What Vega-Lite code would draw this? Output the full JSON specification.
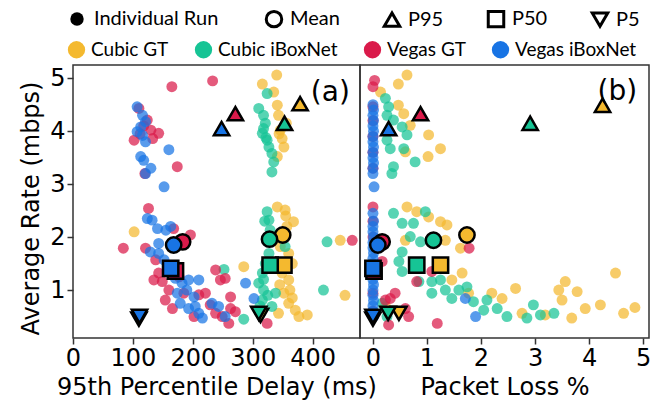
{
  "$schema": "https://vega.github.io/schema/vega-lite/v6.json",
  "padding": {"left": 18, "top": 9, "right": 10, "bottom": 0},
  "spacing": 0,
  "bounds": "flush",
  "config": {
    "view": {"stroke": "#333", "strokeWidth": 1.5},
    "axis": {"labelFont": "DejaVu Sans", "labelFontSize": 24, "titleFont": "DejaVu Sans", "titleFontSize": 24, "titleFontWeight": "normal", "labelColor": "black", "titleColor": "black", "tickColor": "#333", "tickSize": 6, "tickWidth": 1.5, "domain": false, "grid": false, "labelPadding": 2, "labelFlush": false, "format": "d", "titlePadding": 5},
    "legend": {"labelFont": "Lato", "labelFontSize": 20, "labelColor": "black", "title": null, "symbolBaseFillColor": "transparent", "symbolBaseStrokeColor": "black"}
  },
  "datasets": {
    "runs": [
      {"p":"a","g":"Cubic GT","x":340,"y":5.06},{"p":"a","g":"Cubic GT","x":316,"y":4.89},{"p":"a","g":"Cubic GT","x":335,"y":4.74},{"p":"a","g":"Cubic GT","x":341,"y":4.49},{"p":"a","g":"Cubic GT","x":343,"y":4.3},{"p":"a","g":"Cubic GT","x":356,"y":4.15},{"p":"a","g":"Cubic GT","x":346,"y":4.02},{"p":"a","g":"Cubic GT","x":344,"y":3.95},{"p":"a","g":"Cubic GT","x":349,"y":3.86},{"p":"a","g":"Cubic GT","x":352,"y":3.7},{"p":"a","g":"Cubic GT","x":341,"y":3.52},{"p":"a","g":"Cubic GT","x":102,"y":2.1},{"p":"a","g":"Cubic GT","x":341,"y":2.57},{"p":"a","g":"Cubic GT","x":354,"y":2.51},{"p":"a","g":"Cubic GT","x":355,"y":2.4},{"p":"a","g":"Cubic GT","x":368,"y":2.29},{"p":"a","g":"Cubic GT","x":357,"y":2.2},{"p":"a","g":"Cubic GT","x":350,"y":2.0},{"p":"a","g":"Cubic GT","x":346,"y":1.82},{"p":"a","g":"Cubic GT","x":360,"y":1.69},{"p":"a","g":"Cubic GT","x":366,"y":1.5},{"p":"a","g":"Cubic GT","x":349,"y":1.32},{"p":"a","g":"Cubic GT","x":360,"y":1.19},{"p":"a","g":"Cubic GT","x":345,"y":1.1},{"p":"a","g":"Cubic GT","x":362,"y":1.0},{"p":"a","g":"Cubic GT","x":352,"y":0.94},{"p":"a","g":"Cubic GT","x":366,"y":0.85},{"p":"a","g":"Cubic GT","x":360,"y":0.75},{"p":"a","g":"Cubic GT","x":371,"y":0.62},{"p":"a","g":"Cubic GT","x":391,"y":0.53},{"p":"a","g":"Cubic GT","x":377,"y":0.5},{"p":"a","g":"Cubic GT","x":343,"y":0.56},{"p":"a","g":"Cubic GT","x":285,"y":1.44},{"p":"a","g":"Cubic GT","x":446,"y":1.94},{"p":"a","g":"Cubic GT","x":454,"y":0.9},
      {"p":"a","g":"Cubic iBoxNet","x":324,"y":4.71},{"p":"a","g":"Cubic iBoxNet","x":310,"y":4.43},{"p":"a","g":"Cubic iBoxNet","x":318,"y":4.3},{"p":"a","g":"Cubic iBoxNet","x":321,"y":4.15},{"p":"a","g":"Cubic iBoxNet","x":318,"y":4.05},{"p":"a","g":"Cubic iBoxNet","x":316,"y":3.96},{"p":"a","g":"Cubic iBoxNet","x":322,"y":3.88},{"p":"a","g":"Cubic iBoxNet","x":324,"y":3.83},{"p":"a","g":"Cubic iBoxNet","x":327,"y":3.7},{"p":"a","g":"Cubic iBoxNet","x":332,"y":3.58},{"p":"a","g":"Cubic iBoxNet","x":335,"y":3.42},{"p":"a","g":"Cubic iBoxNet","x":332,"y":3.23},{"p":"a","g":"Cubic iBoxNet","x":324,"y":2.48},{"p":"a","g":"Cubic iBoxNet","x":327,"y":2.32},{"p":"a","g":"Cubic iBoxNet","x":320,"y":2.3},{"p":"a","g":"Cubic iBoxNet","x":329,"y":2.13},{"p":"a","g":"Cubic iBoxNet","x":324,"y":1.94},{"p":"a","g":"Cubic iBoxNet","x":354,"y":1.82},{"p":"a","g":"Cubic iBoxNet","x":327,"y":1.69},{"p":"a","g":"Cubic iBoxNet","x":321,"y":1.5},{"p":"a","g":"Cubic iBoxNet","x":316,"y":1.32},{"p":"a","g":"Cubic iBoxNet","x":318,"y":1.2},{"p":"a","g":"Cubic iBoxNet","x":310,"y":1.13},{"p":"a","g":"Cubic iBoxNet","x":318,"y":1.0},{"p":"a","g":"Cubic iBoxNet","x":338,"y":0.94},{"p":"a","g":"Cubic iBoxNet","x":325,"y":0.9},{"p":"a","g":"Cubic iBoxNet","x":316,"y":0.81},{"p":"a","g":"Cubic iBoxNet","x":312,"y":0.7},{"p":"a","g":"Cubic iBoxNet","x":332,"y":0.69},{"p":"a","g":"Cubic iBoxNet","x":313,"y":0.56},{"p":"a","g":"Cubic iBoxNet","x":252,"y":1.39},{"p":"a","g":"Cubic iBoxNet","x":285,"y":0.45},{"p":"a","g":"Cubic iBoxNet","x":424,"y":1.91},{"p":"a","g":"Cubic iBoxNet","x":418,"y":1.0},
      {"p":"a","g":"Vegas GT","x":165,"y":4.84},{"p":"a","g":"Vegas GT","x":233,"y":4.95},{"p":"a","g":"Vegas GT","x":110,"y":4.43},{"p":"a","g":"Vegas GT","x":124,"y":4.21},{"p":"a","g":"Vegas GT","x":118,"y":4.1},{"p":"a","g":"Vegas GT","x":130,"y":4.02},{"p":"a","g":"Vegas GT","x":143,"y":3.96},{"p":"a","g":"Vegas GT","x":112,"y":3.95},{"p":"a","g":"Vegas GT","x":102,"y":3.83},{"p":"a","g":"Vegas GT","x":133,"y":3.86},{"p":"a","g":"Vegas GT","x":174,"y":3.33},{"p":"a","g":"Vegas GT","x":120,"y":3.2},{"p":"a","g":"Vegas GT","x":126,"y":2.54},{"p":"a","g":"Vegas GT","x":84,"y":1.79},{"p":"a","g":"Vegas GT","x":121,"y":1.79},{"p":"a","g":"Vegas GT","x":168,"y":2.16},{"p":"a","g":"Vegas GT","x":196,"y":2.04},{"p":"a","g":"Vegas GT","x":185,"y":1.88},{"p":"a","g":"Vegas GT","x":138,"y":1.57},{"p":"a","g":"Vegas GT","x":143,"y":1.32},{"p":"a","g":"Vegas GT","x":149,"y":1.16},{"p":"a","g":"Vegas GT","x":135,"y":1.19},{"p":"a","g":"Vegas GT","x":160,"y":1.0},{"p":"a","g":"Vegas GT","x":154,"y":0.81},{"p":"a","g":"Vegas GT","x":166,"y":0.65},{"p":"a","g":"Vegas GT","x":177,"y":1.25},{"p":"a","g":"Vegas GT","x":185,"y":0.94},{"p":"a","g":"Vegas GT","x":210,"y":0.91},{"p":"a","g":"Vegas GT","x":202,"y":0.5},{"p":"a","g":"Vegas GT","x":221,"y":0.94},{"p":"a","g":"Vegas GT","x":238,"y":1.38},{"p":"a","g":"Vegas GT","x":246,"y":1.19},{"p":"a","g":"Vegas GT","x":254,"y":1.22},{"p":"a","g":"Vegas GT","x":229,"y":0.72},{"p":"a","g":"Vegas GT","x":263,"y":0.87},{"p":"a","g":"Vegas GT","x":263,"y":0.65},{"p":"a","g":"Vegas GT","x":271,"y":0.59},{"p":"a","g":"Vegas GT","x":260,"y":0.37},{"p":"a","g":"Vegas GT","x":249,"y":0.5},{"p":"a","g":"Vegas GT","x":238,"y":0.56},{"p":"a","g":"Vegas GT","x":324,"y":0.37},{"p":"a","g":"Vegas GT","x":466,"y":1.94},
      {"p":"a","g":"Vegas iBoxNet","x":107,"y":4.46},{"p":"a","g":"Vegas iBoxNet","x":116,"y":4.3},{"p":"a","g":"Vegas iBoxNet","x":121,"y":4.18},{"p":"a","g":"Vegas iBoxNet","x":113,"y":4.08},{"p":"a","g":"Vegas iBoxNet","x":107,"y":3.99},{"p":"a","g":"Vegas iBoxNet","x":116,"y":3.92},{"p":"a","g":"Vegas iBoxNet","x":121,"y":3.8},{"p":"a","g":"Vegas iBoxNet","x":160,"y":3.65},{"p":"a","g":"Vegas iBoxNet","x":113,"y":3.52},{"p":"a","g":"Vegas iBoxNet","x":118,"y":3.45},{"p":"a","g":"Vegas iBoxNet","x":130,"y":3.3},{"p":"a","g":"Vegas iBoxNet","x":121,"y":3.2},{"p":"a","g":"Vegas iBoxNet","x":152,"y":2.95},{"p":"a","g":"Vegas iBoxNet","x":124,"y":2.35},{"p":"a","g":"Vegas iBoxNet","x":132,"y":2.32},{"p":"a","g":"Vegas iBoxNet","x":141,"y":2.16},{"p":"a","g":"Vegas iBoxNet","x":155,"y":2.13},{"p":"a","g":"Vegas iBoxNet","x":163,"y":2.2},{"p":"a","g":"Vegas iBoxNet","x":143,"y":1.88},{"p":"a","g":"Vegas iBoxNet","x":129,"y":1.72},{"p":"a","g":"Vegas iBoxNet","x":143,"y":1.69},{"p":"a","g":"Vegas iBoxNet","x":152,"y":1.57},{"p":"a","g":"Vegas iBoxNet","x":166,"y":1.38},{"p":"a","g":"Vegas iBoxNet","x":171,"y":1.22},{"p":"a","g":"Vegas iBoxNet","x":182,"y":1.13},{"p":"a","g":"Vegas iBoxNet","x":193,"y":1.19},{"p":"a","g":"Vegas iBoxNet","x":210,"y":1.19},{"p":"a","g":"Vegas iBoxNet","x":190,"y":1.0},{"p":"a","g":"Vegas iBoxNet","x":174,"y":0.94},{"p":"a","g":"Vegas iBoxNet","x":202,"y":0.87},{"p":"a","g":"Vegas iBoxNet","x":179,"y":0.75},{"p":"a","g":"Vegas iBoxNet","x":193,"y":0.65},{"p":"a","g":"Vegas iBoxNet","x":204,"y":0.69},{"p":"a","g":"Vegas iBoxNet","x":210,"y":0.56},{"p":"a","g":"Vegas iBoxNet","x":216,"y":0.47},{"p":"a","g":"Vegas iBoxNet","x":232,"y":0.75},{"p":"a","g":"Vegas iBoxNet","x":243,"y":0.69},{"p":"a","g":"Vegas iBoxNet","x":288,"y":1.13},{"p":"a","g":"Vegas iBoxNet","x":254,"y":0.5},{"p":"a","g":"Vegas iBoxNet","x":302,"y":0.84},
      {"p":"b","g":"Cubic GT","x":0.63,"y":5.06},{"p":"b","g":"Cubic GT","x":0.47,"y":4.89},{"p":"b","g":"Cubic GT","x":0.14,"y":4.74},{"p":"b","g":"Cubic GT","x":0.47,"y":4.49},{"p":"b","g":"Cubic GT","x":0.57,"y":4.33},{"p":"b","g":"Cubic GT","x":0.69,"y":4.11},{"p":"b","g":"Cubic GT","x":1.03,"y":3.93},{"p":"b","g":"Cubic GT","x":1.25,"y":3.67},{"p":"b","g":"Cubic GT","x":1.02,"y":3.52},{"p":"b","g":"Cubic GT","x":0.6,"y":3.61},{"p":"b","g":"Cubic GT","x":0.63,"y":2.57},{"p":"b","g":"Cubic GT","x":0.81,"y":2.48},{"p":"b","g":"Cubic GT","x":1.03,"y":2.38},{"p":"b","g":"Cubic GT","x":1.25,"y":2.29},{"p":"b","g":"Cubic GT","x":1.37,"y":2.23},{"p":"b","g":"Cubic GT","x":0.6,"y":1.94},{"p":"b","g":"Cubic GT","x":1.34,"y":1.94},{"p":"b","g":"Cubic GT","x":1.62,"y":1.79},{"p":"b","g":"Cubic GT","x":1.65,"y":1.32},{"p":"b","g":"Cubic GT","x":1.46,"y":1.19},{"p":"b","g":"Cubic GT","x":2.2,"y":0.94},{"p":"b","g":"Cubic GT","x":2.39,"y":0.84},{"p":"b","g":"Cubic GT","x":2.64,"y":1.03},{"p":"b","g":"Cubic GT","x":2.76,"y":0.56},{"p":"b","g":"Cubic GT","x":3.19,"y":0.53},{"p":"b","g":"Cubic GT","x":3.44,"y":1.0},{"p":"b","g":"Cubic GT","x":3.56,"y":1.16},{"p":"b","g":"Cubic GT","x":3.5,"y":0.81},{"p":"b","g":"Cubic GT","x":3.78,"y":0.97},{"p":"b","g":"Cubic GT","x":3.93,"y":0.65},{"p":"b","g":"Cubic GT","x":4.21,"y":0.72},{"p":"b","g":"Cubic GT","x":4.49,"y":1.32},{"p":"b","g":"Cubic GT","x":4.64,"y":0.56},{"p":"b","g":"Cubic GT","x":4.85,"y":0.67},{"p":"b","g":"Cubic GT","x":3.68,"y":0.47},{"p":"b","g":"Cubic GT","x":1.77,"y":0.94},{"p":"b","g":"Cubic GT","x":0.23,"y":0.69},
      {"p":"b","g":"Cubic iBoxNet","x":0.23,"y":4.62},{"p":"b","g":"Cubic iBoxNet","x":0.29,"y":4.46},{"p":"b","g":"Cubic iBoxNet","x":0.26,"y":4.3},{"p":"b","g":"Cubic iBoxNet","x":0.38,"y":4.21},{"p":"b","g":"Cubic iBoxNet","x":0.54,"y":4.08},{"p":"b","g":"Cubic iBoxNet","x":0.63,"y":3.93},{"p":"b","g":"Cubic iBoxNet","x":0.26,"y":3.83},{"p":"b","g":"Cubic iBoxNet","x":0.32,"y":3.67},{"p":"b","g":"Cubic iBoxNet","x":0.57,"y":3.67},{"p":"b","g":"Cubic iBoxNet","x":0.78,"y":3.42},{"p":"b","g":"Cubic iBoxNet","x":0.38,"y":3.33},{"p":"b","g":"Cubic iBoxNet","x":0.35,"y":3.2},{"p":"b","g":"Cubic iBoxNet","x":0.38,"y":2.45},{"p":"b","g":"Cubic iBoxNet","x":0.54,"y":2.26},{"p":"b","g":"Cubic iBoxNet","x":0.75,"y":2.26},{"p":"b","g":"Cubic iBoxNet","x":0.97,"y":2.48},{"p":"b","g":"Cubic iBoxNet","x":0.69,"y":2.01},{"p":"b","g":"Cubic iBoxNet","x":0.88,"y":1.91},{"p":"b","g":"Cubic iBoxNet","x":0.54,"y":1.72},{"p":"b","g":"Cubic iBoxNet","x":0.48,"y":1.54},{"p":"b","g":"Cubic iBoxNet","x":0.54,"y":1.35},{"p":"b","g":"Cubic iBoxNet","x":0.85,"y":1.16},{"p":"b","g":"Cubic iBoxNet","x":1.09,"y":1.16},{"p":"b","g":"Cubic iBoxNet","x":1.25,"y":1.19},{"p":"b","g":"Cubic iBoxNet","x":1.09,"y":0.94},{"p":"b","g":"Cubic iBoxNet","x":1.34,"y":1.0},{"p":"b","g":"Cubic iBoxNet","x":1.46,"y":0.84},{"p":"b","g":"Cubic iBoxNet","x":1.59,"y":1.0},{"p":"b","g":"Cubic iBoxNet","x":1.74,"y":1.06},{"p":"b","g":"Cubic iBoxNet","x":1.86,"y":0.78},{"p":"b","g":"Cubic iBoxNet","x":2.11,"y":0.81},{"p":"b","g":"Cubic iBoxNet","x":2.3,"y":0.65},{"p":"b","g":"Cubic iBoxNet","x":2.48,"y":0.5},{"p":"b","g":"Cubic iBoxNet","x":2.97,"y":0.72},{"p":"b","g":"Cubic iBoxNet","x":2.85,"y":0.47},{"p":"b","g":"Cubic iBoxNet","x":3.35,"y":0.56},{"p":"b","g":"Cubic iBoxNet","x":3.1,"y":0.53},{"p":"b","g":"Cubic iBoxNet","x":2.05,"y":0.62},{"p":"b","g":"Cubic iBoxNet","x":0.17,"y":0.75},{"p":"b","g":"Cubic iBoxNet","x":0.26,"y":0.5},
      {"p":"b","g":"Vegas GT","x":0.03,"y":4.96},{"p":"b","g":"Vegas GT","x":0.0,"y":4.84},{"p":"b","g":"Vegas GT","x":0.0,"y":4.46},{"p":"b","g":"Vegas GT","x":0.0,"y":4.2},{"p":"b","g":"Vegas GT","x":0.0,"y":3.9},{"p":"b","g":"Vegas GT","x":0.0,"y":3.6},{"p":"b","g":"Vegas GT","x":0.0,"y":3.3},{"p":"b","g":"Vegas GT","x":0.0,"y":2.57},{"p":"b","g":"Vegas GT","x":0.0,"y":2.3},{"p":"b","g":"Vegas GT","x":0.0,"y":2.0},{"p":"b","g":"Vegas GT","x":0.17,"y":1.94},{"p":"b","g":"Vegas GT","x":1.78,"y":1.79},{"p":"b","g":"Vegas GT","x":0.17,"y":1.54},{"p":"b","g":"Vegas GT","x":1.09,"y":1.35},{"p":"b","g":"Vegas GT","x":0.0,"y":1.3},{"p":"b","g":"Vegas GT","x":0.81,"y":1.16},{"p":"b","g":"Vegas GT","x":0.41,"y":0.94},{"p":"b","g":"Vegas GT","x":0.32,"y":0.84},{"p":"b","g":"Vegas GT","x":0.23,"y":0.81},{"p":"b","g":"Vegas GT","x":0.0,"y":0.94},{"p":"b","g":"Vegas GT","x":0.6,"y":0.65},{"p":"b","g":"Vegas GT","x":0.0,"y":0.6},{"p":"b","g":"Vegas GT","x":0.66,"y":0.5},{"p":"b","g":"Vegas GT","x":0.29,"y":0.34},{"p":"b","g":"Vegas GT","x":1.19,"y":0.37},
      {"p":"b","g":"Vegas iBoxNet","x":0.0,"y":4.5},{"p":"b","g":"Vegas iBoxNet","x":0.01,"y":4.4},{"p":"b","g":"Vegas iBoxNet","x":0.0,"y":4.3},{"p":"b","g":"Vegas iBoxNet","x":0.01,"y":4.2},{"p":"b","g":"Vegas iBoxNet","x":0.0,"y":4.1},{"p":"b","g":"Vegas iBoxNet","x":0.01,"y":4.0},{"p":"b","g":"Vegas iBoxNet","x":0.0,"y":3.9},{"p":"b","g":"Vegas iBoxNet","x":0.0,"y":3.8},{"p":"b","g":"Vegas iBoxNet","x":0.01,"y":3.7},{"p":"b","g":"Vegas iBoxNet","x":0.0,"y":3.6},{"p":"b","g":"Vegas iBoxNet","x":0.0,"y":3.5},{"p":"b","g":"Vegas iBoxNet","x":0.01,"y":3.4},{"p":"b","g":"Vegas iBoxNet","x":0.0,"y":3.3},{"p":"b","g":"Vegas iBoxNet","x":0.0,"y":3.2},{"p":"b","g":"Vegas iBoxNet","x":0.02,"y":2.95},{"p":"b","g":"Vegas iBoxNet","x":0.0,"y":2.45},{"p":"b","g":"Vegas iBoxNet","x":0.01,"y":2.3},{"p":"b","g":"Vegas iBoxNet","x":0.0,"y":2.2},{"p":"b","g":"Vegas iBoxNet","x":0.0,"y":2.1},{"p":"b","g":"Vegas iBoxNet","x":0.01,"y":2.0},{"p":"b","g":"Vegas iBoxNet","x":0.0,"y":1.9},{"p":"b","g":"Vegas iBoxNet","x":0.0,"y":1.8},{"p":"b","g":"Vegas iBoxNet","x":0.01,"y":1.7},{"p":"b","g":"Vegas iBoxNet","x":0.0,"y":1.6},{"p":"b","g":"Vegas iBoxNet","x":0.0,"y":1.5},{"p":"b","g":"Vegas iBoxNet","x":0.01,"y":1.4},{"p":"b","g":"Vegas iBoxNet","x":0.0,"y":1.3},{"p":"b","g":"Vegas iBoxNet","x":0.0,"y":1.2},{"p":"b","g":"Vegas iBoxNet","x":0.01,"y":1.1},{"p":"b","g":"Vegas iBoxNet","x":0.0,"y":1.0},{"p":"b","g":"Vegas iBoxNet","x":0.0,"y":0.9},{"p":"b","g":"Vegas iBoxNet","x":0.01,"y":0.8},{"p":"b","g":"Vegas iBoxNet","x":0.0,"y":0.7},{"p":"b","g":"Vegas iBoxNet","x":0.0,"y":0.6},{"p":"b","g":"Vegas iBoxNet","x":0.01,"y":0.5},{"p":"b","g":"Vegas iBoxNet","x":1.9,"y":0.5},{"p":"b","g":"Vegas iBoxNet","x":1.71,"y":0.84}
    ],
    "stats": [
      {"p":"a","g":"Cubic GT","s":"Mean","x":350,"y":2.04},{"p":"a","g":"Cubic GT","s":"P95","x":379,"y":4.52},{"p":"a","g":"Cubic GT","s":"P50","x":352,"y":1.47},{"p":"a","g":"Cubic GT","s":"P5","x":313,"y":0.52},
      {"p":"a","g":"Cubic iBoxNet","s":"Mean","x":328,"y":1.96},{"p":"a","g":"Cubic iBoxNet","s":"P95","x":353,"y":4.15},{"p":"a","g":"Cubic iBoxNet","s":"P50","x":329,"y":1.47},{"p":"a","g":"Cubic iBoxNet","s":"P5","x":310,"y":0.56},
      {"p":"a","g":"Vegas GT","s":"Mean","x":183,"y":1.91},{"p":"a","g":"Vegas GT","s":"P95","x":271,"y":4.33},{"p":"a","g":"Vegas GT","s":"P50","x":171,"y":1.36},{"p":"a","g":"Vegas GT","s":"P5","x":110,"y":0.45},
      {"p":"a","g":"Vegas iBoxNet","s":"Mean","x":168,"y":1.85},{"p":"a","g":"Vegas iBoxNet","s":"P95","x":248,"y":4.05},{"p":"a","g":"Vegas iBoxNet","s":"P50","x":163,"y":1.41},{"p":"a","g":"Vegas iBoxNet","s":"P5","x":111,"y":0.5},
      {"p":"b","g":"Cubic GT","s":"Mean","x":1.74,"y":2.04},{"p":"b","g":"Cubic GT","s":"P95","x":4.25,"y":4.49},{"p":"b","g":"Cubic GT","s":"P50","x":1.25,"y":1.47},{"p":"b","g":"Cubic GT","s":"P5","x":0.48,"y":0.56},
      {"p":"b","g":"Cubic iBoxNet","s":"Mean","x":1.12,"y":1.94},{"p":"b","g":"Cubic iBoxNet","s":"P95","x":2.91,"y":4.15},{"p":"b","g":"Cubic iBoxNet","s":"P50","x":0.81,"y":1.47},{"p":"b","g":"Cubic iBoxNet","s":"P5","x":0.28,"y":0.56},
      {"p":"b","g":"Vegas GT","s":"Mean","x":0.17,"y":1.91},{"p":"b","g":"Vegas GT","s":"P95","x":0.88,"y":4.33},{"p":"b","g":"Vegas GT","s":"P50","x":0.02,"y":1.36},{"p":"b","g":"Vegas GT","s":"P5","x":0.0,"y":0.45},
      {"p":"b","g":"Vegas iBoxNet","s":"Mean","x":0.09,"y":1.85},{"p":"b","g":"Vegas iBoxNet","s":"P95","x":0.29,"y":4.05},{"p":"b","g":"Vegas iBoxNet","s":"P50","x":0.0,"y":1.41},{"p":"b","g":"Vegas iBoxNet","s":"P5","x":0.0,"y":0.5}
    ],
    "notes": [
      {"p":"a","t":"(a)","k":"Individual Run","x":462,"y":4.57},
      {"p":"b","t":"(b)","k":"Individual Run","x":4.89,"y":4.58}
    ]
  },
  "hconcat": [
    {
      "width": 287, "height": 273,
      "layer": [
        {
          "data": {"name": "runs"},
          "transform": [{"filter": "datum.p === 'a'"}],
          "mark": {"type": "point", "filled": true, "size": 120, "opacity": 0.72, "shape": "circle"},
          "encoding": {
            "x": {"field": "x", "type": "quantitative", "scale": {"domain": [0, 479], "nice": false, "zero": false}, "axis": {"values": [0, 100, 200, 300, 400], "title": "95th Percentile Delay (ms)"}},
            "y": {"field": "y", "type": "quantitative", "scale": {"domain": [0.094, 5.25], "nice": false, "zero": false}, "axis": {"values": [1, 2, 3, 4, 5], "title": "Average Rate (mbps)", "titlePadding": 6, "titleY": 143}},
            "color": {"field": "g", "type": "nominal", "scale": {"domain": ["Cubic GT", "Cubic iBoxNet", "Vegas GT", "Vegas iBoxNet"], "range": ["#F4B92F", "#16C495", "#DA1A4A", "#1874E4"]},
              "legend": {"orient": "none", "legendX": -6, "legendY": -25, "direction": "horizontal", "columns": 4, "columnPadding": 25, "symbolSize": 300, "labelOffset": 5, "labelFontSize": 19, "symbolOpacity": 0.88, "symbolStrokeWidth": 0, "symbolType": "circle"}}
          }
        },
        {
          "data": {"name": "stats"},
          "transform": [{"filter": "datum.p === 'a'"}],
          "mark": {"type": "point", "filled": true, "size": 235, "opacity": 1, "stroke": "black", "strokeWidth": 2.5},
          "encoding": {
            "x": {"field": "x", "type": "quantitative"},
            "y": {"field": "y", "type": "quantitative"},
            "color": {"field": "g", "type": "nominal", "scale": {"domain": ["Cubic GT", "Cubic iBoxNet", "Vegas GT", "Vegas iBoxNet"], "range": ["#F4B92F", "#16C495", "#DA1A4A", "#1874E4"]}},
            "shape": {"field": "s", "type": "nominal", "scale": {"domain": ["Mean", "P95", "P50", "P5"], "range": ["circle", "triangle-up", "square", "triangle-down"]},
              "legend": {"orient": "none", "legendX": 191, "legendY": -56, "direction": "horizontal", "columns": 4, "columnPadding": 38, "symbolSize": 240, "labelOffset": 6, "symbolFillColor": "transparent", "symbolStrokeColor": "black", "symbolStrokeWidth": 3, "symbolOpacity": 1}}
          }
        },
        {
          "data": {"name": "notes"},
          "transform": [{"filter": "datum.p === 'a'"}],
          "mark": {"type": "text", "align": "right", "baseline": "alphabetic", "font": "DejaVu Sans", "fontSize": 28},
          "encoding": {
            "x": {"field": "x", "type": "quantitative"},
            "y": {"field": "y", "type": "quantitative"},
            "text": {"field": "t"},
            "fill": {"field": "k", "type": "nominal", "scale": {"domain": ["Individual Run"], "range": ["black"]},
              "legend": {"orient": "none", "legendX": -6, "legendY": -56, "direction": "horizontal", "symbolSize": 180, "labelOffset": 7, "symbolType": "circle", "symbolOpacity": 1, "symbolStrokeWidth": 0}}
          }
        }
      ]
    },
    {
      "width": 289, "height": 273,
      "layer": [
        {
          "data": {"name": "runs"},
          "transform": [{"filter": "datum.p === 'b'"}],
          "mark": {"type": "point", "filled": true, "size": 120, "opacity": 0.72, "shape": "circle"},
          "encoding": {
            "x": {"field": "x", "type": "quantitative", "scale": {"domain": [-0.24, 5.11], "nice": false, "zero": false}, "axis": {"values": [0, 1, 2, 3, 4, 5], "title": "Packet Loss %"}},
            "y": {"field": "y", "type": "quantitative", "scale": {"domain": [0.094, 5.25], "nice": false, "zero": false}, "axis": null},
            "color": {"field": "g", "type": "nominal", "scale": {"domain": ["Cubic GT", "Cubic iBoxNet", "Vegas GT", "Vegas iBoxNet"], "range": ["#F4B92F", "#16C495", "#DA1A4A", "#1874E4"]}}
          }
        },
        {
          "data": {"name": "stats"},
          "transform": [{"filter": "datum.p === 'b'"}],
          "mark": {"type": "point", "filled": true, "size": 235, "opacity": 1, "stroke": "black", "strokeWidth": 2.5},
          "encoding": {
            "x": {"field": "x", "type": "quantitative"},
            "y": {"field": "y", "type": "quantitative"},
            "color": {"field": "g", "type": "nominal", "scale": {"domain": ["Cubic GT", "Cubic iBoxNet", "Vegas GT", "Vegas iBoxNet"], "range": ["#F4B92F", "#16C495", "#DA1A4A", "#1874E4"]}},
            "shape": {"field": "s", "type": "nominal", "scale": {"domain": ["Mean", "P95", "P50", "P5"], "range": ["circle", "triangle-up", "square", "triangle-down"]}}
          }
        },
        {
          "data": {"name": "notes"},
          "transform": [{"filter": "datum.p === 'b'"}],
          "mark": {"type": "text", "align": "right", "baseline": "alphabetic", "font": "DejaVu Sans", "fontSize": 28},
          "encoding": {
            "x": {"field": "x", "type": "quantitative"},
            "y": {"field": "y", "type": "quantitative"},
            "text": {"field": "t"},
            "fill": {"field": "k", "type": "nominal", "scale": {"domain": ["Individual Run"], "range": ["black"]}}
          }
        }
      ]
    }
  ]
}
